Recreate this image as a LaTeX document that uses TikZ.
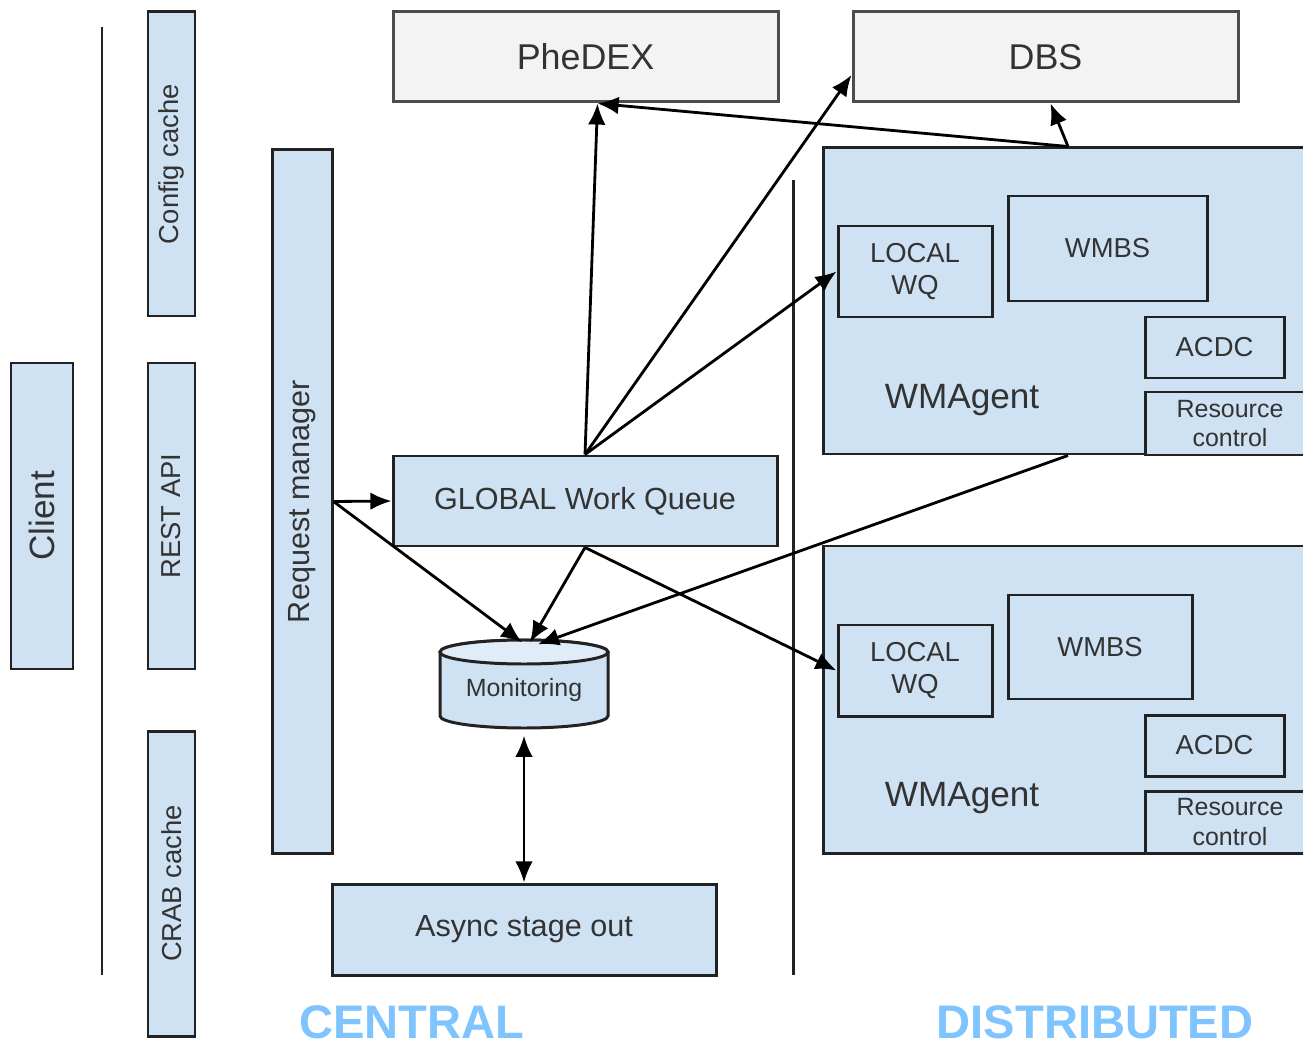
\documentclass[tikz,border=0pt]{standalone}
\usepackage{fontspec}
\setmainfont{Liberation Sans}
\definecolor{boxblue}{HTML}{CFE2F3}
\definecolor{capblue}{HTML}{E0ECF8}
\definecolor{boxgray}{HTML}{F3F3F3}
\definecolor{lineblack}{HTML}{222222}
\definecolor{textgray}{HTML}{333333}
\definecolor{zoneblue}{RGB}{128,196,255}
\usetikzlibrary{arrows.meta,calc}

\begin{document}
\begin{tikzpicture}[
      box/.style={draw=lineblack, line width=0.85pt, fill=boxblue, inner sep=1pt,
                  align=center, text=textgray},
      ext/.style={box, fill=boxgray, draw=black!70, font=\fontsize{10.2}{12}\selectfont},
      big/.style={font=\fontsize{10}{12}\selectfont},
      mid/.style={font=\fontsize{8.7}{10.4}\selectfont},
      small/.style={font=\fontsize{7.8}{9.1}\selectfont},
      tiny/.style={font=\fontsize{7.1}{8.3}\selectfont},
      sep/.style={draw=lineblack, line width=0.85pt},
      arr/.style={-{Latex[length=6pt,width=5pt]}, line width=0.8pt},
      arrboth/.style={{Latex[length=6pt,width=5pt]}-{Latex[length=6pt,width=5pt]}, line width=0.8pt},
      zone/.style={text=zoneblue, inner sep=0pt, font=\bfseries\fontsize{13.4}{16}\selectfont}
    ]
      \clip (0,0) rectangle (13.03,-10.43);

      % central column
      \node[box, big, minimum width=0.62cm, minimum height=3.06cm] (client) at (0.42,-5.16) {\rotatebox{90}{Client}};
      \node[box, small, minimum width=0.47cm, minimum height=3.04cm] (cfgcache) at (1.715,-1.64) {\rotatebox{90}{Config cache}};
      \node[box, small, minimum width=0.47cm, minimum height=3.06cm] (restapi) at (1.715,-5.16) {\rotatebox{90}{REST API}};
      \node[box, small, minimum width=0.47cm, minimum height=3.05cm] (crabcache) at (1.715,-8.835) {\rotatebox{90}{CRAB cache}};
      \node[box, mid, minimum width=0.60cm, minimum height=7.03cm] (reqmgr) at (3.02,-5.015) {\rotatebox{90}{Request manager}};

      \node[ext, minimum width=3.85cm, minimum height=0.90cm] (phedex) at (5.855,-0.57) {PheDEX};
      \node[ext, minimum width=3.85cm, minimum height=0.90cm] (dbs) at (10.455,-0.57) {DBS};
      \node[box, mid, minimum width=3.84cm, minimum height=0.90cm] (gwq) at (5.85,-5.01) {GLOBAL Work Queue};
      \node[box, mid, minimum width=3.84cm, minimum height=0.91cm] (aso) at (5.24,-9.295) {Async stage out};

      % monitoring database
      \node[inner sep=0pt, minimum width=1.68cm, minimum height=0.88cm] (mon) at (5.24,-6.84) {};
      \draw[draw=lineblack, line width=0.85pt, fill=boxblue]
        ($(mon.center)+(-0.84,0.32)$) -- ++(0,-0.64)
        arc[start angle=180, end angle=360, x radius=0.84, y radius=0.12]
        -- ++(0,0.64)
        arc[start angle=0, end angle=180, x radius=0.84, y radius=0.12] -- cycle;
      \draw[draw=lineblack, line width=0.85pt, fill=capblue]
        ($(mon.center)+(0,0.32)$) ellipse[x radius=0.84, y radius=0.12];
      \node[tiny, text=textgray] (monlab) at (5.24,-6.90) {Monitoring};

      % distributed agents
      \node[box, minimum width=4.90cm, minimum height=3.06cm] (wma1) at (10.68,-3.01) {};
      \node[box, small, minimum width=1.54cm, minimum height=0.91cm] (lwq1) at (9.15,-2.715) {LOCAL\\WQ};
      \node[box, small, minimum width=1.99cm, minimum height=1.05cm] (wmbs1) at (11.075,-2.485) {WMBS};
      \node[box, small, minimum width=1.39cm, minimum height=0.61cm] (acdc1) at (12.145,-3.475) {ACDC};
      \node[box, tiny, minimum width=1.70cm, minimum height=0.63cm] (rc1) at (12.30,-4.235) {Resource\\control};
      \node[big, text=textgray] (wmalab1) at (9.62,-4.00) {WMAgent};

      \node[box, minimum width=4.90cm, minimum height=3.07cm] (wma2) at (10.68,-6.995) {};
      \node[box, small, minimum width=1.54cm, minimum height=0.91cm] (lwq2) at (9.15,-6.705) {LOCAL\\WQ};
      \node[box, small, minimum width=1.84cm, minimum height=1.04cm] (wmbs2) at (11.00,-6.47) {WMBS};
      \node[box, small, minimum width=1.39cm, minimum height=0.61cm] (acdc2) at (12.145,-7.455) {ACDC};
      \node[box, tiny, minimum width=1.70cm, minimum height=0.62cm] (rc2) at (12.30,-8.22) {Resource\\control};
      \node[big, text=textgray] (wmalab2) at (9.62,-7.98) {WMAgent};

      \draw[sep] (1.02,-0.27) -- (1.02,-9.75);
      \draw[sep] (7.93,-1.80) -- (7.93,-9.75);

      \node[zone] (central) at (4.12,-10.22) {CENTRAL};
      \node[zone] (distributed) at (10.95,-10.22) {DISTRIBUTED};

      % connectors
      \draw[arr] (gwq.north) -- ($(phedex.south)+(0.12,0)$);
      \draw[arr] (gwq.north) -- ($(dbs.west)+(0,-0.18)$);
      \draw[arr] (gwq.north) -- (lwq1.west);
      \draw[arr] (wma1.north) -- ($(phedex.south)+(0.12,0)$);
      \draw[arr] (wma1.north) -- ($(dbs.south)+(0.05,0)$);
      \draw[arr] (reqmgr.east) -- (gwq.west);
      \draw[arr] (reqmgr.east) -- ($(mon.north)+(-0.02,-0.03)$);
      \draw[arr] (gwq.south) -- ($(mon.north)+(0.06,-0.03)$);
      \draw[arr] (wma1.south) -- ($(mon.north)+(0.14,-0.05)$);
      \draw[arr] (gwq.south) -- (lwq2.west);
      \draw[arrboth, shorten <=0.07cm] (mon.south) -- (aso.north);
    \end{tikzpicture}
\end{document}
